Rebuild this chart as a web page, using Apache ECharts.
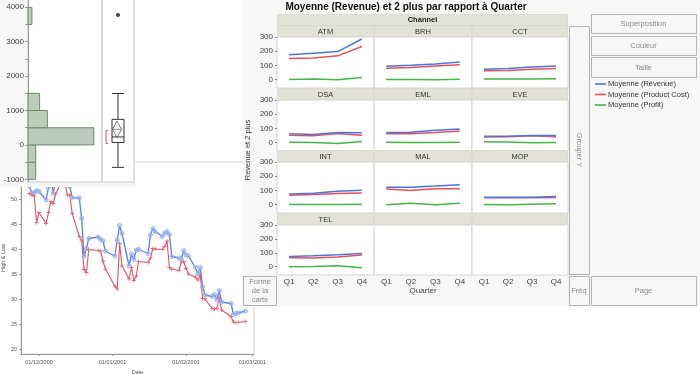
<!DOCTYPE html>
<html><head><meta charset="utf-8">
<script src="https://cdn.jsdelivr.net/npm/echarts@6/dist/echarts.min.js"></script>
<style>
html,body{margin:0;padding:0;background:#fff;}
#wrap{position:relative;width:700px;height:374px;overflow:hidden;}
#line{position:absolute;left:0;top:0;width:700px;height:374px;}
#dist{position:absolute;left:0;top:0;width:135px;height:187px;background:#f7f7f7;}
#gb{position:absolute;left:242px;top:0;width:458px;height:306px;background:#f7f7f7;}
</style></head><body>
<div id="wrap"><div id="line"></div><div id="dist"></div><div id="gb"></div></div>
<script>
// ---------- Line chart (High & Low by Date) ----------
const tradeDates = ['2000-11-27','2000-11-28','2000-11-29','2000-11-30','2000-12-01','2000-12-04','2000-12-05','2000-12-06','2000-12-07','2000-12-08','2000-12-11','2000-12-12','2000-12-13','2000-12-14','2000-12-15','2000-12-18','2000-12-19','2000-12-20','2000-12-21','2000-12-22','2000-12-26','2000-12-27','2000-12-28','2000-12-29','2001-01-02','2001-01-03','2001-01-04','2001-01-05','2001-01-08','2001-01-09','2001-01-10','2001-01-11','2001-01-12','2001-01-16','2001-01-17','2001-01-18','2001-01-19','2001-01-22','2001-01-23','2001-01-24','2001-01-25','2001-01-26','2001-01-29','2001-01-30','2001-01-31','2001-02-01','2001-02-02','2001-02-05','2001-02-06','2001-02-07','2001-02-08','2001-02-09','2001-02-12','2001-02-13','2001-02-14','2001-02-15','2001-02-16','2001-02-20','2001-02-21','2001-02-22','2001-02-23','2001-02-26'];
const highPrice = [52.5,51.2,51.3,51.7, 51.5,49.8,52.3,54.5,51.1,53.8,58.0,57.0,54.0,52.5,50.3,50.2,46.1,38.5,40.1,42.1,42.4,41.9,41.6,39.6, 38.6,41.8,44.7,43.1,36.6,39.0,37.9,39.8,39.9,39.1,42.8,44.1,43.5,42.5,43.2,43.5,42.9,38.5,38.2,38.0,39.7, 38.8,38.6,36.3,35.1,36.3,32.5,30.8,30.5,30.9,29.9,31.7,29.4,29.1,26.9,27.1,27.2,27.6];
const lowPrice = [51.1,50.8,50.6,45.3, 47.3,45.1,47.3,49.5,49.1,51.0,54.0,53.0,50.8,50.8,47.1,42.5,41.6,35.9,35.3,39.9,39.7,39.6,37.6,36.0, 32.6,32.0,41.1,36.6,34.0,36.3,33.7,34.6,37.5,37.3,38.2,40.1,40.0,39.9,40.5,41.6,36.3,36.0,35.7,37.4,37.5, 36.1,35.0,34.4,33.8,34.8,30.1,30.0,28.1,28.0,28.1,30.3,27.8,26.5,25.4,25.3,25.3,25.5];
const priceTicks = [20,25,30,35,40,45,50,55];

// ---------- Distribution (Revenue) ----------
const binLow = [-1000,-500,0,500,1000,3500];
const binHigh = [-500,0,500,1000,1500,4000];
const binCount = [2,2,17,5,3,1];
const revTicks = [-1000,0,1000,2000,3000,4000];
const revMinorTicks = [-1000,-500,0,500,1000,1500,2000,2500,3000,3500,4000];
const boxStats = [-653,69,231,743,1494];
const outlierValues = [3777];
const meanValue = 453;
const meanCI = [213,694];
const shortestHalf = [40,420];

// ---------- Graph Builder ----------
const channels = ['ATM','BRH','CCT','DSA','EML','EVE','INT','MAL','MOP','TEL'];
const quarters = ['Q1','Q2','Q3','Q4'];
const revenue = [[175,186,197,286],[93,100,110,123],[72,78,88,95],[62,57,71,69],[71,72,86,95],[45,45,50,50],[74,79,93,100],[121,122,130,140],[51,51,51,56],[74,79,86,95]];
const productCost = [[148,151,167,233],[80,85,95,104],[62,63,72,78],[52,48,64,52],[62,62,71,81],[38,40,47,40],[65,70,77,81],[109,98,112,112],[47,47,47,49],[65,63,70,84]];
const profit = [[0,4,-2,14],[0,0,-2,2],[3,4,4,6],[2,0,-7,7],[2,0,0,1],[5,3,-2,0],[0,0,0,2],[-2,9,-2,9],[0,-2,2,5],[0,2,7,-7]];
const facetTicks = [0,100,200,300];
const seriesNames = ['Moyenne (Revenue)','Moyenne (Product Cost)','Moyenne (Profit)'];

const FONT = 'Liberation Sans, Arial, sans-serif';
const C_BLUE = '#4f73e0', C_RED = '#e5505c', C_GREEN = '#45b64a';
const pad2 = n => (n < 10 ? '0' : '') + n;

// ===== Line chart =====
const lineChart = echarts.init(document.getElementById('line'), null, {renderer:'canvas'});
const plusPath = 'path://M2,0h1v2h2v1h-2v2h-1v-2h-2v-1h2z';
lineChart.setOption({
  animation:false,
  textStyle:{fontFamily:FONT},
  grid:{left:21, top:162, width:233, height:192, outerBoundsMode:'none', containLabel:false, show:true, backgroundColor:'#fff', borderColor:'#d2d2d2', borderWidth:1},
  xAxis:{type:'time', min:new Date(2000,10,23,10).getTime(), max:new Date(2001,2,1,16).getTime(),
    splitNumber:3, minInterval:28*864e5, maxInterval:31*864e5,
    axisLine:{lineStyle:{color:'#9a9a9a'}}, axisTick:{show:true, length:2, lineStyle:{color:'#9a9a9a'}},
    axisLabel:{fontSize:5.5, color:'#555', margin:5, hideOverlap:false,
      formatter:function(v){const d=new Date(v);return pad2(d.getDate())+'/'+pad2(d.getMonth()+1)+'/'+d.getFullYear();}},
    splitLine:{show:false}, minorTick:{show:false},
    name:'Date', nameLocation:'middle', nameGap:13, nameTextStyle:{fontSize:5.5, color:'#555'}},
  yAxis:{type:'value', min:19, max:57.4,
    axisLine:{show:true, lineStyle:{color:'#9a9a9a'}},
    axisTick:{show:true, length:2, customValues:priceTicks, lineStyle:{color:'#9a9a9a'}},
    axisLabel:{fontSize:5.5, color:'#555', margin:4, customValues:priceTicks},
    splitLine:{show:false},
    name:'High & Low', nameLocation:'middle', nameGap:11, nameRotate:90, nameTextStyle:{fontSize:5.5, color:'#555'}},
  series:[
    {type:'line', name:'High', data:tradeDates.map((d,i)=>[d, highPrice[i]]), symbol:'circle', symbolSize:4, showAllSymbol:true,
      lineStyle:{color:'#5a7fe3', width:1.3}, itemStyle:{color:'rgba(160,185,240,0.45)', borderColor:'#9ab2ef', borderWidth:1}},
    {type:'line', name:'Low', data:tradeDates.map((d,i)=>[d, lowPrice[i]]), symbol:plusPath, symbolSize:4, showAllSymbol:true,
      lineStyle:{color:'#e0525f', width:1.1}, itemStyle:{color:'#e46a74'}}
  ]
});

// ===== Distribution panel =====
const distChart = echarts.init(document.getElementById('dist'), null, {renderer:'canvas'});
const yMinD = -1078, yMaxD = 4270;
distChart.setOption({
  animation:false,
  textStyle:{fontFamily:FONT},
  grid:[{left:28, top:-2, width:74, height:184, outerBoundsMode:'none', containLabel:false, show:true, backgroundColor:'#fff', borderColor:'#c6c6c6', borderWidth:1},
        {left:102, top:-2, width:32, height:184, outerBoundsMode:'none', containLabel:false, show:true, backgroundColor:'#fff', borderColor:'#c6c6c6', borderWidth:1}],
  xAxis:[{gridIndex:0, type:'value', min:0, max:19.1, show:false},
         {gridIndex:1, type:'category', data:['Revenue'], show:false}],
  yAxis:[{gridIndex:0, type:'value', min:yMinD, max:yMaxD,
          axisLine:{show:true, lineStyle:{color:'#9a9a9a'}},
          axisTick:{show:true, length:3, customValues:revMinorTicks, lineStyle:{color:'#9a9a9a'}},
          axisLabel:{fontSize:8, color:'#444', margin:4, customValues:revTicks, formatter:function(v){return String(v);}},
          splitLine:{show:false}},
         {gridIndex:1, type:'value', min:yMinD, max:yMaxD, show:false}],
  series:[
    {type:'custom', xAxisIndex:0, yAxisIndex:0,
      data:binLow.map((lo,i)=>[lo, binHigh[i], binCount[i]]),
      encode:{x:2, y:[0,1]},
      renderItem:function(params, api){
        const p0 = api.coord([0, api.value(1)]);
        const p1 = api.coord([api.value(2), api.value(0)]);
        return {type:'rect', shape:{x:p0[0], y:p0[1], width:p1[0]-p0[0], height:p1[1]-p0[1]},
          style:{fill:'#bccbbb', stroke:'#6f886f', lineWidth:1}};
      }},
    {type:'boxplot', xAxisIndex:1, yAxisIndex:1, data:[boxStats], boxWidth:[12,12],
      itemStyle:{color:'#fff', borderColor:'#333', borderWidth:1}},
    {type:'custom', xAxisIndex:1, yAxisIndex:1, data:[[0, meanValue, meanCI[0], meanCI[1]]],
      encode:{x:0, y:[1,2,3]}, z:5,
      renderItem:function(params, api){
        const c = api.coord([api.value(0), api.value(1)]);
        const lo = api.coord([api.value(0), api.value(2)]);
        const hi = api.coord([api.value(0), api.value(3)]);
        const w = 4.5, cx = c[0] - 1;
        return {type:'group', children:[
          {type:'polygon', shape:{points:[[cx,hi[1]],[cx+w,c[1]],[cx,lo[1]],[cx-w,c[1]]]}, style:{fill:'none', stroke:'#555', lineWidth:0.8}},
          {type:'line', shape:{x1:cx-w, y1:c[1], x2:cx+w, y2:c[1]}, style:{stroke:'#555', lineWidth:0.6}}
        ]};
      }},
    {type:'custom', xAxisIndex:1, yAxisIndex:1, data:[[0, shortestHalf[0], shortestHalf[1]]],
      encode:{x:0, y:[1,2]},
      renderItem:function(params, api){
        const a = api.coord([api.value(0), api.value(1)]);
        const b = api.coord([api.value(0), api.value(2)]);
        const x = a[0] - 12;
        return {type:'polyline', shape:{points:[[x+2,b[1]],[x,b[1]],[x,a[1]],[x+2,a[1]]]}, style:{fill:'none', stroke:'#e0404c', lineWidth:0.9}};
      }},
    {type:'scatter', xAxisIndex:1, yAxisIndex:1, data:outlierValues.map(v=>['Revenue', v]), symbolSize:4, itemStyle:{color:'#111'}}
  ]
});

// ===== Graph Builder panel =====
const gbChart = echarts.init(document.getElementById('gb'), null, {renderer:'canvas'});
const colX = [35,132,230], colW = [97,98,96];
const rowTop = [37,100,162,225], rowH = [51,51,51,50];
const STRIP = '#e3e2d8';
const grids = [], xAxes = [], yAxes = [], series = [], graphics = [];
for (let r = 0; r < 4; r++) {
  for (let c = 0; c < 3; c++) {
    const i = r*3 + c;
    grids.push({left:colX[c], top:rowTop[r], width:colW[c], height:rowH[r], outerBoundsMode:'none', containLabel:false, show:true, backgroundColor:'#fff', borderColor:'#d4d4d4', borderWidth:1});
    xAxes.push({gridIndex:i, type:'category', data:quarters, boundaryGap:true,
      axisLine:{show:false}, axisTick:{show:false},
      axisLabel:{show:r===3, fontSize:8, color:'#444', margin:3},
      name:(r===3 && c===1) ? 'Quarter' : '', nameLocation:'middle', nameGap:11, nameTextStyle:{fontSize:8, color:'#444'}});
    yAxes.push({gridIndex:i, type:'value', min:-60, max:300,
      axisLine:{show:false}, splitLine:{show:false},
      axisTick:{show:c===0, customValues:facetTicks, length:2, inside:false, lineStyle:{color:'#888'}},
      axisLabel:{show:c===0, fontSize:8, color:'#444', margin:4, customValues:facetTicks}});
    if (i < channels.length) {
      const sets = [revenue[i], productCost[i], profit[i]];
      const cols = [C_BLUE, C_RED, C_GREEN];
      sets.forEach((vals, k) => {
        series.push({type:'line', name:seriesNames[k], xAxisIndex:i, yAxisIndex:i, data:vals, symbol:'none',
          lineStyle:{color:cols[k], width:1.5}, itemStyle:{color:cols[k]}, z:3-k+2});
      });
    }
    graphics.push({type:'rect', shape:{x:colX[c]+0.5, y:rowTop[r]-11.5, width:colW[c]-1, height:11}, style:{fill:STRIP, stroke:'#d8d7cd', lineWidth:0.8}});
    graphics.push({type:'text', x:colX[c]+colW[c]/2, y:rowTop[r]-5.5, style:{text:channels[i] || '', fill:'#333', font:'7.5px '+FONT, textAlign:'center', textVerticalAlign:'middle'}});
  }
}
function box(x,y,w,h){ return {type:'rect', shape:{x:x+0.5,y:y+0.5,width:w,height:h}, style:{fill:'#f7f7f7', stroke:'#b4b4b4', lineWidth:1}}; }
function label(x,y,t,opt){ opt = opt || {}; return {type:'text', x:x, y:y, rotation:opt.rot || 0,
  style:{text:t, fill:opt.color || '#8a8a8a', font:(opt.weight||'normal')+' '+(opt.size||7.5)+'px '+FONT, textAlign:opt.align||'center', textVerticalAlign:'middle'}}; }
graphics.push(label(164,7,'Moyenne (Revenue) et 2 plus par rapport à Quarter',{color:'#111', weight:'bold', size:10}));
graphics.push({type:'rect', shape:{x:35.5,y:14.5,width:290,height:11}, style:{fill:STRIP, stroke:'#d8d7cd', lineWidth:0.8}});
graphics.push(label(180.5,20,'Channel',{color:'#222', weight:'bold', size:7.5}));
graphics.push(label(6,150,'Revenue et 2 plus',{color:'#333', size:7.5, rot:Math.PI/2}));
graphics.push(box(327,26,20,248));
graphics.push(label(337,150,'Grouper Y',{size:7.5, rot:-Math.PI/2}));
graphics.push(box(349,14,105,19)); graphics.push(label(401.5,24,'Superposition'));
graphics.push(box(349,36,105,19)); graphics.push(label(401.5,46,'Couleur'));
graphics.push(box(349,57,105,20)); graphics.push(label(401.5,67.5,'Taille'));
[C_BLUE, C_RED, C_GREEN].forEach((col,k) => {
  const y = 84 + k*10.5;
  graphics.push({type:'line', shape:{x1:353, y1:y, x2:364, y2:y}, style:{stroke:col, lineWidth:1.6}});
  graphics.push(label(366, y, seriesNames[k], {color:'#333', align:'left', size:7.5}));
});
graphics.push(box(1,276,33,29));
graphics.push(label(18,281.5,'Forme')); graphics.push(label(18,290.5,'de la')); graphics.push(label(18,299.5,'carte'));
graphics.push(box(327,276,20,29)); graphics.push(label(337,290.5,'Fréq'));
graphics.push(box(349,276,105,29)); graphics.push(label(401.5,290.5,'Page'));

gbChart.setOption({
  animation:false,
  textStyle:{fontFamily:FONT},
  grid:grids, xAxis:xAxes, yAxis:yAxes, series:series,
  graphic:{elements:graphics}
});
</script>
</body></html>
